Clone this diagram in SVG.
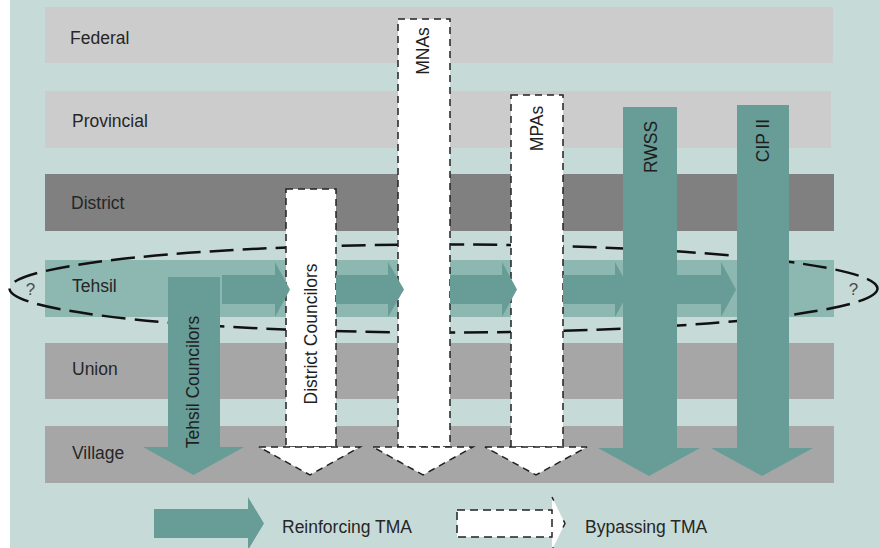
<svg xmlns="http://www.w3.org/2000/svg" width="879" height="548" viewBox="0 0 879 548">
  <style>
    .lbl { font-family: "Liberation Sans", Arial, sans-serif; font-size: 17.5px; fill: #262626; }
    .vlbl { font-family: "Liberation Sans", Arial, sans-serif; font-size: 17.5px; fill: #1e1e1e; text-anchor: middle; }
    .q { font-family: "Liberation Sans", Arial, sans-serif; font-size: 17px; fill: #4a4a4a; text-anchor: middle; }
    .band-light { fill: #cccccc; }
    .band-dark { fill: #808080; }
    .band-mid { fill: #a6a6a6; }
    .band-tehsil { fill: #8db8b2; }
    .teal { fill: #689c96; }
    .bypass { fill: #ffffff; stroke: #222222; stroke-width: 1.5; stroke-dasharray: 7 5; }
  </style>

  <!-- backdrop -->
  <rect x="0" y="0" width="879" height="548" fill="#ffffff"/>
  <rect x="10" y="0" width="869" height="548" fill="#c6dbd8"/>

  <!-- administrative tiers -->
  <g id="federal">
    <rect class="band-light" x="45" y="7" width="788" height="56"/>
    <text class="lbl" x="70" y="44">Federal</text>
  </g>
  <g id="provincial">
    <rect class="band-light" x="45" y="91" width="786" height="57"/>
    <text class="lbl" x="72" y="127">Provincial</text>
  </g>
  <g id="district">
    <rect class="band-dark" x="45" y="174" width="789" height="57"/>
    <text class="lbl" x="71" y="209">District</text>
  </g>
  <g id="tehsil">
    <rect class="band-tehsil" x="45" y="260" width="789" height="57"/>
    <text class="lbl" x="72" y="292">Tehsil</text>
  </g>
  <g id="union">
    <rect class="band-mid" x="45" y="343" width="789" height="56"/>
    <text class="lbl" x="72" y="375">Union</text>
  </g>
  <g id="village">
    <rect class="band-mid" x="45" y="426" width="789" height="57"/>
    <text class="lbl" x="72" y="459">Village</text>
  </g>

  <!-- dashed boundary round the tehsil tier -->
  <g id="tehsil-boundary">
    <ellipse cx="443.5" cy="288.5" rx="434" ry="44" fill="none" stroke="#111111" stroke-width="2.5" stroke-dasharray="24 9"/>
    <text class="q" x="30.5" y="295">?</text>
    <text class="q" x="853.5" y="295">?</text>
  </g>

  <!-- top-down channels -->
  <g id="tehsil-councilors">
    <path class="teal" d="M168,277 H220 V447 H244 L193.5,475 L143,447 H168 Z"/>
    <text class="vlbl" transform="translate(199,382) rotate(-90)">Tehsil Councilors</text>
  </g>
  <g id="district-councilors">
    <rect class="bypass" x="286" y="189" width="50" height="258"/>
    <path class="bypass" d="M259,447 H360 L310,475 Z"/>
    <text class="vlbl" transform="translate(317,334) rotate(-90)">District Councilors</text>
  </g>
  <g id="mnas">
    <rect class="bypass" x="398" y="19" width="52" height="428"/>
    <path class="bypass" d="M373,447 H473 L423,475 Z"/>
    <text class="vlbl" transform="translate(429,51) rotate(-90)">MNAs</text>
  </g>
  <g id="mpas">
    <rect class="bypass" x="511" y="95" width="52" height="352"/>
    <path class="bypass" d="M485,447 H587 L536,475 Z"/>
    <text class="vlbl" transform="translate(543,128.5) rotate(-90)">MPAs</text>
  </g>
  <g id="rwss">
    <path class="teal" d="M623,107 H677 V448 H700 L649,476 L598,448 H623 Z"/>
    <text class="vlbl" transform="translate(657,147) rotate(-90)">RWSS</text>
  </g>
  <g id="cip-ii">
    <path class="teal" d="M737,105 H789 V448 H813 L762,476 L711,448 H737 Z"/>
    <text class="vlbl" transform="translate(769,140.5) rotate(-90)">CIP II</text>
  </g>

  <!-- links along the tehsil tier -->
  <g id="connectors">
    <path class="teal" d="M222,275 H275 V262 L290,289.5 L275,317 V304 H222 Z"/>
    <path class="teal" d="M336,275 H388 V262 L404,289.5 L388,317 V304 H336 Z"/>
    <path class="teal" d="M450,275 H502 V262 L517,289.5 L502,317 V304 H450 Z"/>
    <path class="teal" d="M563,275 H615 V262 L630,289.5 L615,317 V304 H563 Z"/>
    <path class="teal" d="M677,275 H721 V262 L736,289.5 L721,317 V304 H677 Z"/>
  </g>

  <!-- key -->
  <g id="legend-reinforcing">
    <path class="teal" d="M154,509 H248 V497 L264,523.5 L248,550 V538 H154 Z"/>
    <text class="lbl" x="282" y="533">Reinforcing TMA</text>
  </g>
  <g id="legend-bypassing">
    <path d="M552,497 L565,523.5 L552,550 Z" fill="#ffffff"/>
    <path d="M552,497 L565,523.5 L552,550" fill="none" stroke="#222222" stroke-width="1.5" stroke-dasharray="4 22 8 22 4 40"/>
    <rect x="457" y="510" width="95" height="27" fill="#ffffff" stroke="#222222" stroke-width="1.5" stroke-dasharray="8 5"/>
    <text class="lbl" x="585" y="533">Bypassing TMA</text>
  </g>
</svg>
